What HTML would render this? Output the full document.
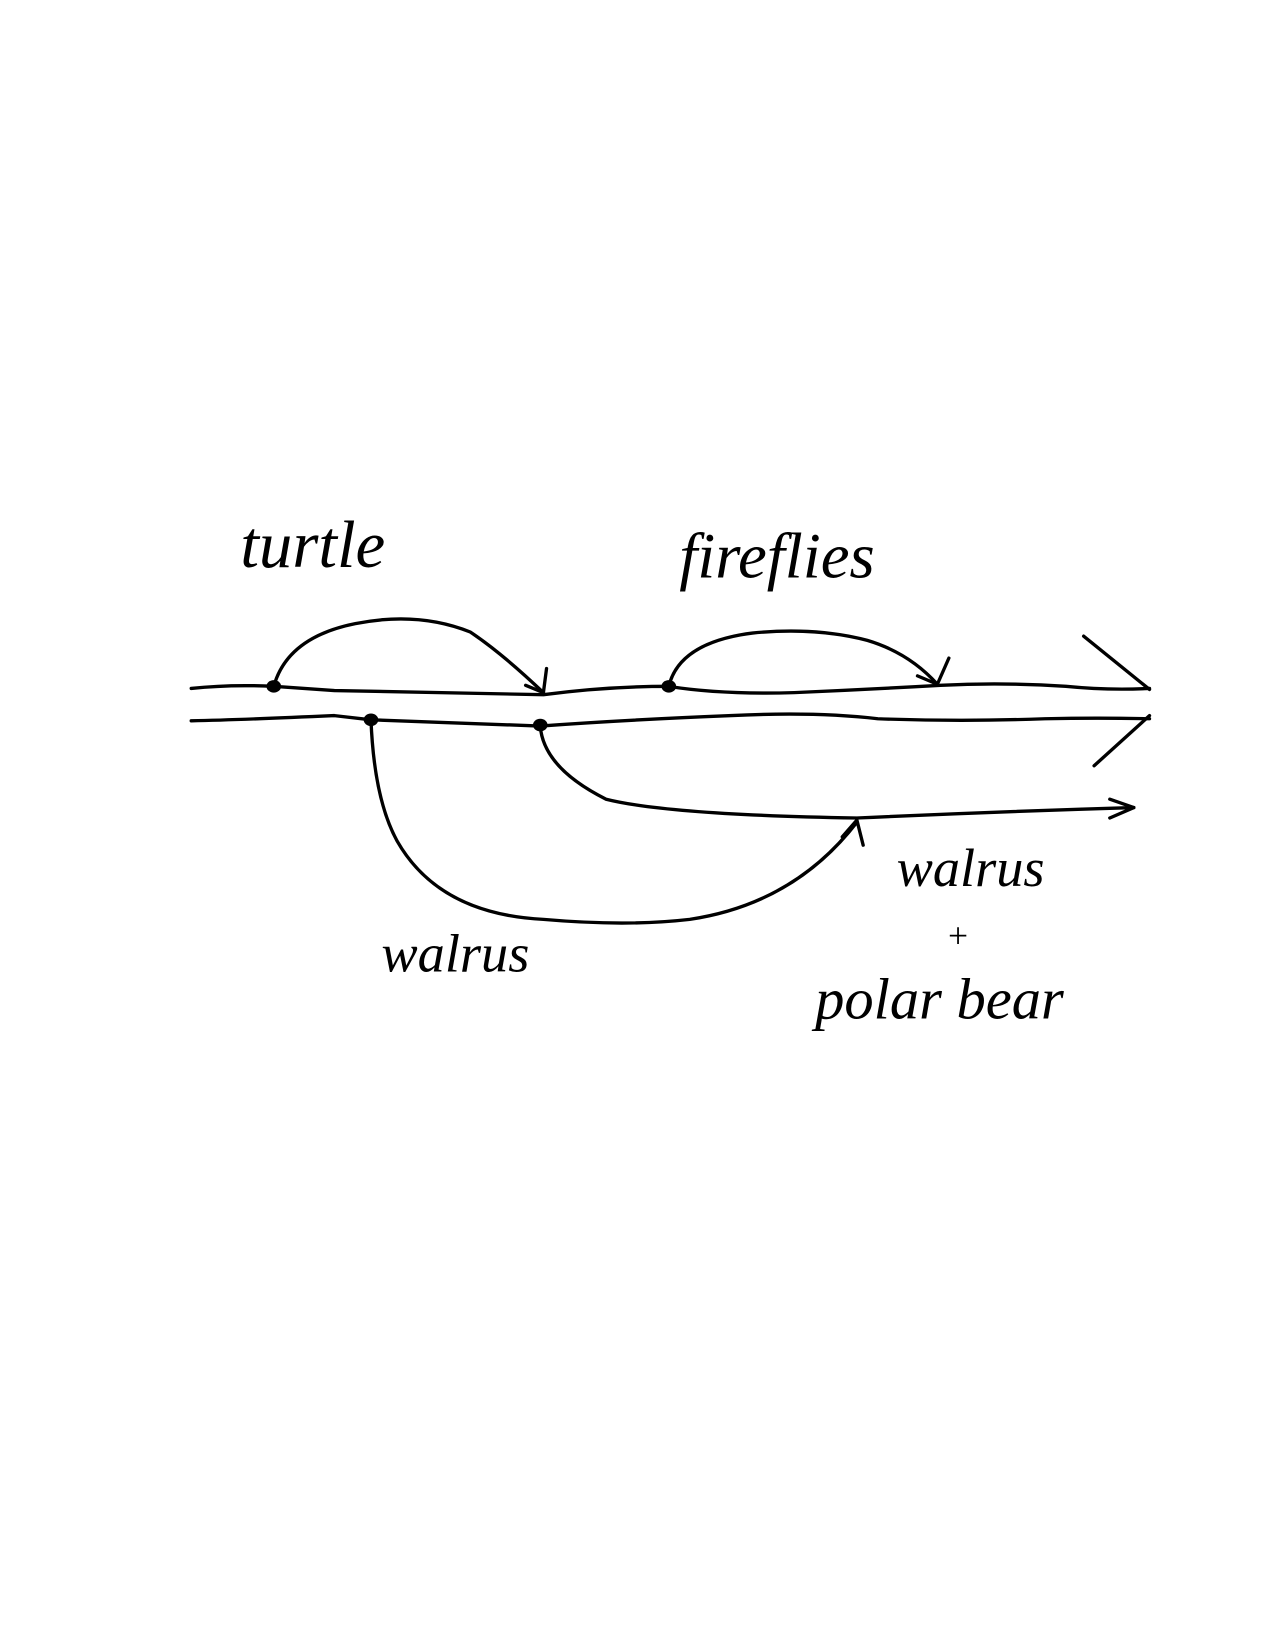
<!DOCTYPE html>
<html><head><meta charset="utf-8"><style>
html,body{margin:0;padding:0;background:#fff;}
svg{display:block;}
text{font-family:"Liberation Serif",serif;font-style:italic;fill:#000;}
</style></head><body>
<svg width="1275" height="1650" viewBox="0 0 1275 1650">
<g transform="translate(0,5) scale(1.045)">
<g fill="none" stroke="#000" stroke-width="3.2" stroke-linecap="round" stroke-linejoin="round">
  <path d="M183 654 Q220 650 262 652 L320 656 Q420 658 520 660 Q580 652 640 652 Q690 660 760 658 Q830 655 900 651 Q960 648 1020 652 Q1060 656 1100 654"/>
  <path d="M183 685 Q230 684 320 680 L355 684 L517 690 Q600 684 700 680 Q780 676 840 683 Q920 686 1000 683 Q1050 682 1100 683"/>
  <path d="M1037 604 L1100 655 M1100 680 L1047 728"/>
  <path d="M262 652 Q275 605 340 592 Q400 580 450 600 Q480 620 520 658"/>
  <path d="M503 651 L520 658 L523 635"/>
  <path d="M640 652 Q650 610 720 601 Q780 595 830 608 Q870 620 897 650"/>
  <path d="M878 642 L897 650 L908 625"/>
  <path d="M355 684 Q358 760 380 800 Q420 870 520 875 Q600 882 660 875 Q760 860 820 782"/>
  <path d="M806 796 L820 780 L826 804"/>
  <path d="M517 690 Q520 730 580 760 Q640 775 820 778 Q950 772 1085 768"/>
  <path d="M1062 760 L1085 768 L1062 778"/>
</g>
<g fill="#000">
  <ellipse cx="262" cy="652" rx="7" ry="6"/>
  <ellipse cx="640" cy="652" rx="7" ry="6"/>
  <ellipse cx="355" cy="684" rx="7" ry="6"/>
  <ellipse cx="517" cy="689" rx="7" ry="6"/>
</g>
<text x="230" y="538" font-size="64">turtle</text>
<text x="650" y="548" font-size="62">fireflies</text>
<text x="858" y="843" font-size="52">walrus</text>
<text x="905" y="902" font-size="34">+</text>
<text x="780" y="970" font-size="56">polar bear</text>
<text x="365" y="925" font-size="52">walrus</text>
</g>
</svg>
</body></html>
